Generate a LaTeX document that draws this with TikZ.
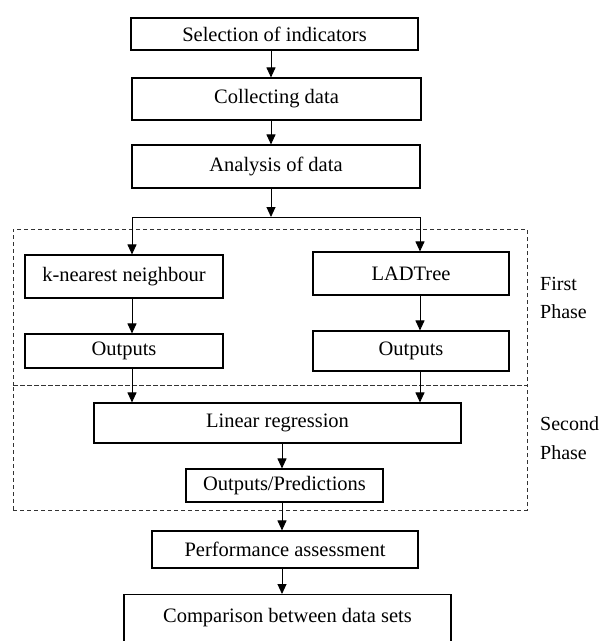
\documentclass[tikz,border=0pt]{standalone}
\usepackage{fontspec}
\setmainfont{Liberation Serif}
\usetikzlibrary{arrows.meta,positioning}
\begin{document}
\begin{tikzpicture}[x=1pt,y=-1pt,
  box/.style={draw=black,line width=1.1pt,rectangle,inner sep=0pt,font=\fontsize{20.5}{22}\selectfont},
  arr/.style={draw=black,line width=0.9pt,-{Triangle[length=10pt,width=9pt]}},
  ln/.style={draw=black,line width=0.9pt},
  phase/.style={draw=black!80,line width=0.8pt,dash pattern=on 4pt off 3pt},
  lbl/.style={anchor=west,inner sep=0pt,font=\fontsize{20}{22}\selectfont}]
\useasboundingbox (0,0) rectangle (602,641);
\node[box,minimum width=287,minimum height=32] (sel) at (274.5,34) {Selection of indicators};
\node[box,minimum width=289,minimum height=42] (col) at (276.5,99) {Collecting data};
\node[box,minimum width=288,minimum height=43] (ana) at (276,166.5) {Analysis of data};
\node[box,minimum width=198,minimum height=43] (knn) at (124,276.5) {k-nearest neighbour};
\node[box,minimum width=196,minimum height=43] (lad) at (411,273.5) {LADTree};
\node[box,minimum width=198,minimum height=34] (out1) at (124,351) {Outputs};
\node[box,minimum width=196,minimum height=40] (out2) at (411,351) {Outputs};
\node[box,minimum width=367,minimum height=40] (lin) at (277.5,423) {Linear regression};
\node[box,minimum width=197,minimum height=33] (op) at (284.5,485.5) {Outputs/Predictions};
\node[box,minimum width=266,minimum height=37] (perf) at (285,549.5) {Performance assessment};
\node[box,anchor=north,minimum width=327,text height=28,text depth=40] (comp) at (287.5,594) {Comparison between data sets};
% phases
\node[phase,rectangle,inner sep=0pt,minimum width=514,minimum height=156] (ph1) at (270,307) {};
\node[phase,rectangle,inner sep=0pt,minimum width=514,minimum height=125] (ph2) at (270,447.5) {};
\node[lbl] (f1) at (540,284) {First};
\node[lbl] (f2) at (540,312) {Phase};
\node[lbl] (s1) at (540,424) {Second};
\node[lbl] (s2) at (540,453) {Phase};
% connectors
\coordinate (split) at (271,217);
\coordinate (sl) at (132,217);
\coordinate (sr) at (420,217);
\draw[arr] (sel.south -| split) -- (col.north -| split);
\draw[arr] (col.south -| split) -- (ana.north -| split);
\draw[arr] (ana.south -| split) -- (split);
\draw[ln] (sl) -- (sr);
\draw[arr] (sl) -- (sl |- knn.north);
\draw[arr] (sr) -- (sr |- lad.north);
\draw[arr] (knn.south -| sl) -- (out1.north -| sl);
\draw[arr] (lad.south -| sr) -- (out2.north -| sr);
\draw[arr] (out1.south -| sl) -- (lin.north -| sl);
\draw[arr] (out2.south -| sr) -- (lin.north -| sr);
\coordinate (cx) at (282,0);
\draw[arr] (lin.south -| cx) -- (op.north -| cx);
\draw[arr] (op.south -| cx) -- (perf.north -| cx);
\draw[arr] (perf.south -| cx) -- (comp.north -| cx);
\end{tikzpicture}
\end{document}
